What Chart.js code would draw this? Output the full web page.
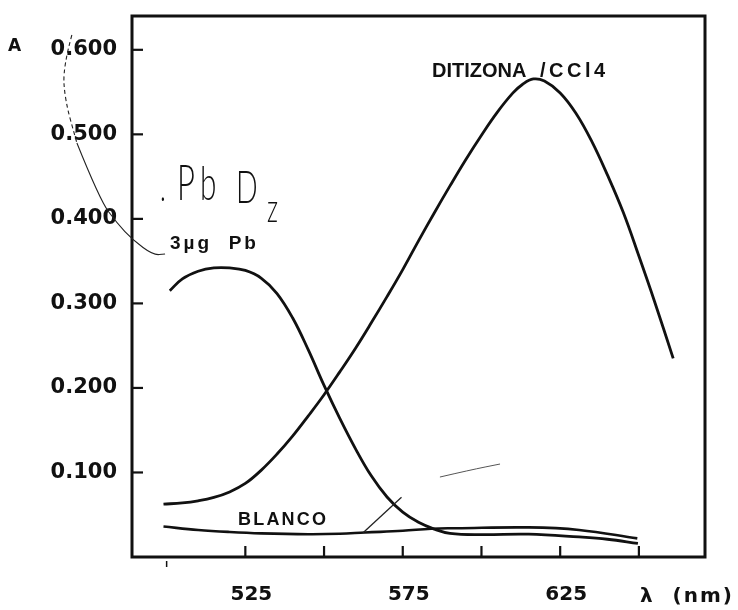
<!DOCTYPE html>
<html><head><meta charset="utf-8">
<script src="https://cdn.jsdelivr.net/npm/chart.js@4/dist/chart.umd.min.js"></script>
<style>html,body{margin:0;padding:0;background:#fff}canvas{display:block}</style>
</head><body>
<canvas id="c" width="738" height="610"></canvas>
<script>
// ---- data ----
const ditizonaNm = [499, 505, 510, 515, 520, 525, 530, 535, 540, 545, 550, 555, 560, 565, 570, 575, 580, 585, 590, 595, 600, 605, 610, 613, 616.5, 620, 625, 630, 635, 640, 645, 650, 655, 660.9];
const ditizonaA  = [0.0625, 0.064, 0.0665, 0.0705, 0.077, 0.087, 0.1025, 0.1215, 0.143, 0.167, 0.192, 0.219, 0.247, 0.277, 0.308, 0.340, 0.374, 0.407, 0.439, 0.470, 0.499, 0.526, 0.549, 0.559, 0.5655, 0.563, 0.549, 0.525, 0.492, 0.452, 0.408, 0.356, 0.302, 0.235];

const pbNm = [501, 505, 510, 515, 520, 525, 530, 535, 540, 545, 550, 555, 560, 565, 570, 575, 580, 585, 590, 600, 615, 631, 640, 649.7];
const pbA  = [0.315, 0.329, 0.338, 0.342, 0.342, 0.339, 0.330, 0.312, 0.283, 0.245, 0.203, 0.164, 0.128, 0.096, 0.071, 0.053, 0.041, 0.033, 0.028, 0.0265, 0.027, 0.0237, 0.021, 0.016];

const blancoNm = [499, 510, 520, 530, 545, 555, 563, 575, 584, 592, 615, 631, 649.5];
const blancoA  = [0.036, 0.032, 0.0296, 0.028, 0.027, 0.0275, 0.029, 0.031, 0.0335, 0.034, 0.035, 0.032, 0.022];

const xTickValues = [500, 525, 550, 575, 600, 625, 650];
const xTickLabels = ['', '525', '', '575', '', '625', ''];
const yTickValues = [0.1, 0.2, 0.3, 0.4, 0.5, 0.6];
const yTickLabels = ['0.100', '0.200', '0.300', '0.400', '0.500', '0.600'];

// pencil annotations (in data units)
const arcNm = [469.9, 467.1, 467.7, 471.5, 478.8, 484.2, 489.3, 495.7, 499.5];
const arcA  = [0.6175, 0.5797, 0.5406, 0.4897, 0.4223, 0.3951, 0.375, 0.3572, 0.3584];
const leaderNm = [562.4, 574.6];
const leaderA  = [0.0287, 0.0707];
const dashNm = [586.8, 596.4, 605.9];
const dashA  = [0.0946, 0.1029, 0.110];

const ink = '#111';
const zip = (xs, ys) => xs.map((v, i) => ({x: v, y: ys[i]}));

function smoothPath(ctx, pts) {
  ctx.beginPath();
  ctx.moveTo(pts[0][0], pts[0][1]);
  for (let i = 1; i < pts.length - 1; i++) {
    const mx = (pts[i][0] + pts[i+1][0]) / 2, my = (pts[i][1] + pts[i+1][1]) / 2;
    ctx.quadraticCurveTo(pts[i][0], pts[i][1], mx, my);
  }
  const l = pts[pts.length - 1];
  ctx.lineTo(l[0], l[1]);
  ctx.stroke();
}

function spacedText(ctx, text, x, y, font, spacing) {
  ctx.font = font;
  try { ctx.letterSpacing = spacing + 'px'; } catch (e) {}
  ctx.fillText(text, x, y);
  try { ctx.letterSpacing = '0px'; } catch (e) {}
}

const deco = {
  id: 'deco',
  afterDraw(chart) {
    const {ctx, chartArea: a, scales: {x, y}} = chart;
    const X = v => x.getPixelForValue(v), Y = v => y.getPixelForValue(v);
    ctx.save();
    ctx.strokeStyle = ink; ctx.fillStyle = ink;
    // frame
    ctx.lineWidth = 3;
    ctx.strokeRect(a.left, a.top, a.right - a.left, a.bottom - a.top);
    // y ticks (inward)
    ctx.lineWidth = 2.2;
    yTickValues.forEach(v => {
      ctx.beginPath(); ctx.moveTo(a.left, Y(v)); ctx.lineTo(a.left + 11, Y(v)); ctx.stroke();
    });
    // x ticks (inward, first one small and outward)
    xTickValues.forEach((v, i) => {
      ctx.beginPath();
      if (i === 0) { ctx.lineWidth = 1.5; ctx.moveTo(X(v), a.bottom + 4); ctx.lineTo(X(v), a.bottom + 10); }
      else { ctx.lineWidth = 2.2; ctx.moveTo(X(v), a.bottom); ctx.lineTo(X(v), a.bottom - 11); }
      ctx.stroke();
    });
    // axis title texts
    ctx.textBaseline = 'alphabetic'; ctx.textAlign = 'left';
    spacedText(ctx, 'A', 8, 51, 'bold 17px "DejaVu Sans"', 0);
    spacedText(ctx, 'λ  (nm)', 640, 602, 'bold 20px "DejaVu Sans"', 2);
    // curve labels
    spacedText(ctx, 'DITIZONA', 432, 77, 'bold 20px "Liberation Sans"', 0);
    spacedText(ctx, '/CCl4', 540, 77, 'bold 20px "Liberation Sans"', 3.5);
    spacedText(ctx, '3µg  Pb', 170, 249, 'bold 19px "Liberation Sans"', 3);
    spacedText(ctx, 'BLANCO', 238, 525, 'bold 18px "Liberation Sans"', 2.2);
    // handwritten note
    const hw = (ch, px, py, size) => {
      ctx.save(); ctx.translate(px, py); ctx.scale(0.62, 1);
      ctx.font = '300 ' + size + 'px Lato'; ctx.fillText(ch, 0, 0); ctx.restore();
    };
    hw('.', 160, 201, 40);
    hw('P', 177, 200, 50);
    hw('b', 200, 200, 48);
    hw('D', 236, 203, 46);
    hw('z', 267, 222, 40);
    // pencil annotations
    ctx.lineWidth = 1.1; ctx.strokeStyle = '#222';
    const arc = arcNm.map((v, i) => [X(v), Y(arcA[i])]);
    ctx.setLineDash([4, 3]);
    smoothPath(ctx, arc.slice(0, 4));
    ctx.setLineDash([]);
    smoothPath(ctx, arc.slice(3));
    ctx.lineWidth = 1.3;
    smoothPath(ctx, leaderNm.map((v, i) => [X(v), Y(leaderA[i])]));
    ctx.lineWidth = 1; ctx.strokeStyle = '#555';
    smoothPath(ctx, dashNm.map((v, i) => [X(v), Y(dashA[i])]));
    ctx.restore();
  }
};

const lineStyle = {borderColor: ink, pointRadius: 0, fill: false, tension: 0.4};

new Chart(document.getElementById('c'), {
  type: 'line',
  data: {
    datasets: [
      Object.assign({label: 'DITIZONA /CCl4', data: zip(ditizonaNm, ditizonaA), borderWidth: 2.8}, lineStyle),
      Object.assign({label: '3µg Pb', data: zip(pbNm, pbA), borderWidth: 2.8}, lineStyle),
      Object.assign({label: 'BLANCO', data: zip(blancoNm, blancoA), borderWidth: 2.6}, lineStyle)
    ]
  },
  options: {
    responsive: false, animation: false,
    layout: {padding: {top: 16, right: 33, left: 0, bottom: 0}},
    plugins: {legend: {display: false}, tooltip: {enabled: false}},
    scales: {
      x: {
        type: 'linear', min: 489, max: 671,
        afterBuildTicks: s => { s.ticks = xTickValues.map(v => ({value: v})); },
        afterFit: s => { s.height = 53; s.paddingLeft = 0; s.paddingRight = 0; },
        grid: {display: false, drawTicks: false}, border: {display: false},
        ticks: {
          callback: (v, i) => xTickLabels[i], autoSkip: false, maxRotation: 0,
          color: ink, padding: 26, labelOffset: 6,
          font: {family: 'DejaVu Sans', weight: 'bold', size: 20}
        }
      },
      y: {
        min: 0, max: 0.64,
        afterBuildTicks: s => { s.ticks = yTickValues.map(v => ({value: v})); },
        afterFit: s => { s.width = 132; s.paddingTop = 0; s.paddingBottom = 0; },
        grid: {display: false, drawTicks: false}, border: {display: false},
        ticks: {
          callback: (v, i) => yTickLabels[i], color: ink, padding: 15,
          font: {family: 'DejaVu Sans', weight: 'bold', size: 21}
        }
      }
    }
  },
  plugins: [deco]
});
</script>
</body></html>
